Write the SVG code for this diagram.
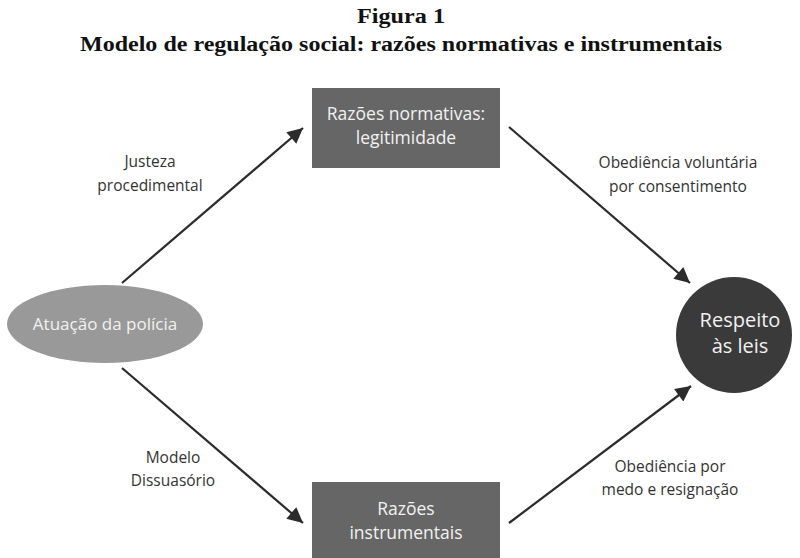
<svg xmlns="http://www.w3.org/2000/svg" width="800" height="558" viewBox="0 0 800 558">
<defs>
<style>
.title{font-family:"Liberation Serif","DejaVu Serif",serif;font-weight:bold;font-size:20px;fill:#111;text-anchor:middle}
.lbl{font-family:"Open Sans","Noto Sans",sans-serif;font-size:15.5px;fill:#333;text-anchor:middle}
.node{font-family:"Open Sans","Noto Sans",sans-serif;fill:#f2f2f2;text-anchor:middle}
.edge{stroke:#2b2b2b;stroke-width:2.2;fill:none;marker-end:url(#ah)}
</style>
<marker id="ah" viewBox="0 0 10 10" refX="10" refY="5" markerWidth="9" markerHeight="7" markerUnits="strokeWidth" orient="auto">
<path d="M0,0 L10,5 L0,10 z" fill="#2b2b2b"/>
</marker>
</defs>
<rect width="800" height="558" fill="#fff"/>
<text class="title" x="401" y="23" textLength="88" lengthAdjust="spacingAndGlyphs">Figura 1</text>
<text class="title" x="401" y="51" textLength="642" lengthAdjust="spacingAndGlyphs">Modelo de regulação social: razões normativas e instrumentais</text>
<g id="edges">
<line class="edge" x1="122" y1="283" x2="303" y2="128"/>
<line class="edge" x1="509" y1="127" x2="690" y2="283"/>
<line class="edge" x1="122" y1="368" x2="303" y2="523"/>
<line class="edge" x1="509" y1="523" x2="691" y2="386"/>
<text class="lbl" x="150" y="167">Justeza</text>
<text class="lbl" x="150" y="191">procedimental</text>
<text class="lbl" x="678" y="168">Obediência voluntária</text>
<text class="lbl" x="678" y="192">por consentimento</text>
<text class="lbl" x="173" y="463">Modelo</text>
<text class="lbl" x="173" y="486">Dissuasório</text>
<text class="lbl" x="670" y="472">Obediência por</text>
<text class="lbl" x="670" y="495">medo e resignação</text>
</g>
<g id="normativas">
<rect x="312" y="88" width="188" height="80" fill="#666"/>
<text class="node" x="406" y="120" font-size="17.5">Razões normativas:</text>
<text class="node" x="406" y="144" font-size="17.5">legitimidade</text>
</g>
<g id="instrumentais">
<rect x="312" y="482" width="188" height="80" fill="#666"/>
<text class="node" x="406" y="515" font-size="17.5">Razões</text>
<text class="node" x="406" y="539" font-size="17.5">instrumentais</text>
</g>
<g id="atuacao">
<ellipse cx="105" cy="324" rx="98" ry="39" fill="#999"/>
<text class="node" x="105" y="330" font-size="17">Atuação da polícia</text>
</g>
<g id="respeito">
<circle cx="734" cy="335" r="58" fill="#3a3a3a"/>
<text class="node" x="740" y="327" font-size="20">Respeito</text>
<text class="node" x="740" y="353" font-size="20">às leis</text>
</g>
</svg>
